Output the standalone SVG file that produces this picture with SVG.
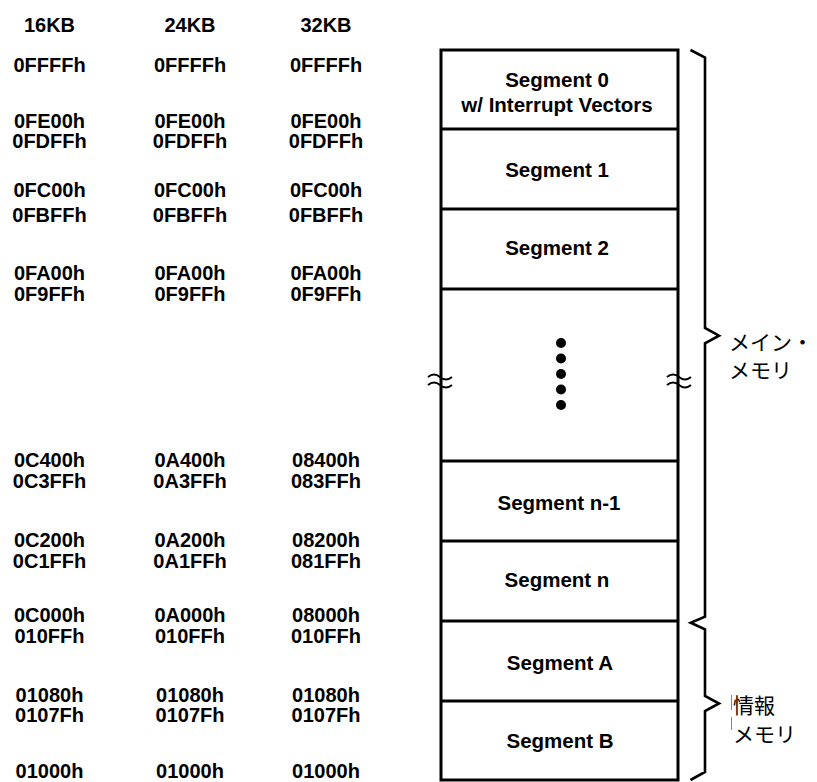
<svg xmlns="http://www.w3.org/2000/svg" width="817" height="782" viewBox="0 0 817 782">
<style>
.a{font-family:"Liberation Sans",Arial,sans-serif;font-weight:bold;font-size:20px;fill:#000;text-anchor:middle}
.s{font-family:"Liberation Sans",Arial,sans-serif;font-weight:bold;font-size:20.5px;fill:#000;text-anchor:middle}
.j{font-family:"Noto Sans CJK JP",sans-serif;font-size:21px;fill:#000}
.ln{stroke:#000;stroke-width:3;fill:none}
.br{stroke:#000;stroke-width:2.6;fill:none;stroke-linejoin:miter}
.wv{stroke:#000;stroke-width:2;fill:none}
</style>
<rect width="817" height="782" fill="#fff"/>
<g id="addresses">
<text class="a" x="49.5" y="32">16KB</text><text class="a" x="190" y="32">24KB</text><text class="a" x="326" y="32">32KB</text>
<text class="a" x="49.5" y="72">0FFFFh</text><text class="a" x="190" y="72">0FFFFh</text><text class="a" x="326" y="72">0FFFFh</text>
<text class="a" x="49.5" y="128">0FE00h</text><text class="a" x="190" y="128">0FE00h</text><text class="a" x="326" y="128">0FE00h</text>
<text class="a" x="49.5" y="148">0FDFFh</text><text class="a" x="190" y="148">0FDFFh</text><text class="a" x="326" y="148">0FDFFh</text>
<text class="a" x="49.5" y="197">0FC00h</text><text class="a" x="190" y="197">0FC00h</text><text class="a" x="326" y="197">0FC00h</text>
<text class="a" x="49.5" y="222">0FBFFh</text><text class="a" x="190" y="222">0FBFFh</text><text class="a" x="326" y="222">0FBFFh</text>
<text class="a" x="49.5" y="280">0FA00h</text><text class="a" x="190" y="280">0FA00h</text><text class="a" x="326" y="280">0FA00h</text>
<text class="a" x="49.5" y="301">0F9FFh</text><text class="a" x="190" y="301">0F9FFh</text><text class="a" x="326" y="301">0F9FFh</text>
<text class="a" x="49.5" y="467">0C400h</text><text class="a" x="190" y="467">0A400h</text><text class="a" x="326" y="467">08400h</text>
<text class="a" x="49.5" y="488">0C3FFh</text><text class="a" x="190" y="488">0A3FFh</text><text class="a" x="326" y="488">083FFh</text>
<text class="a" x="49.5" y="547">0C200h</text><text class="a" x="190" y="547">0A200h</text><text class="a" x="326" y="547">08200h</text>
<text class="a" x="49.5" y="568">0C1FFh</text><text class="a" x="190" y="568">0A1FFh</text><text class="a" x="326" y="568">081FFh</text>
<text class="a" x="49.5" y="622">0C000h</text><text class="a" x="190" y="622">0A000h</text><text class="a" x="326" y="622">08000h</text>
<text class="a" x="49.5" y="643">010FFh</text><text class="a" x="190" y="643">010FFh</text><text class="a" x="326" y="643">010FFh</text>
<text class="a" x="49.5" y="702">01080h</text><text class="a" x="190" y="702">01080h</text><text class="a" x="326" y="702">01080h</text>
<text class="a" x="49.5" y="722">0107Fh</text><text class="a" x="190" y="722">0107Fh</text><text class="a" x="326" y="722">0107Fh</text>
<text class="a" x="49.5" y="778">01000h</text><text class="a" x="190" y="778">01000h</text><text class="a" x="326" y="778">01000h</text>
</g>
<g id="memory-map">
<rect class="ln" x="441" y="50" width="237" height="730" fill="#fff"/>
<g id="seg0"><line class="ln" x1="441" y1="129" x2="678" y2="129"/><text class="s" x="557" y="87">Segment 0</text><text class="s" x="557" y="112">w/ Interrupt Vectors</text></g>
<g id="seg1"><line class="ln" x1="441" y1="209" x2="678" y2="209"/><text class="s" x="557" y="177">Segment 1</text></g>
<g id="seg2"><line class="ln" x1="441" y1="289" x2="678" y2="289"/><text class="s" x="557" y="255">Segment 2</text></g>
<g id="gap">
<circle cx="561" cy="343" r="5"/><circle cx="561" cy="358.5" r="5"/><circle cx="561" cy="374" r="5"/><circle cx="561" cy="389.5" r="5"/><circle cx="561" cy="405" r="5"/>
<path class="wv" d="M428,377 q6,-5 12,0 t12,0 M428,385 q6,-5 12,0 t12,0"/>
<path class="wv" d="M667,377 q6,-5 12,0 t12,0 M667,385 q6,-5 12,0 t12,0"/>
</g>
<g id="segn1"><line class="ln" x1="441" y1="461" x2="678" y2="461"/><text class="s" x="559" y="510">Segment n-1</text></g>
<g id="segn"><line class="ln" x1="441" y1="541" x2="678" y2="541"/><text class="s" x="557" y="587">Segment n</text></g>
<g id="segA"><line class="ln" x1="441" y1="621" x2="678" y2="621"/><text class="s" x="560" y="670">Segment A</text></g>
<g id="segB"><line class="ln" x1="441" y1="701" x2="678" y2="701"/><text class="s" x="560" y="748">Segment B</text></g>
</g>
<g id="braces">
<path class="br" d="M690.5,50 L705,57.5 L705,328 L719,335.7 L705,343.3 L705,616.7 L690.7,622.7 L705,629.3 L705,696 L719,703.5 L705,711 L705,772 L690.5,780"/>
</g>
<g id="labels">
<text class="j" x="729" y="350">メイン・</text>
<text class="j" x="729" y="378">メモリ</text>
<text class="j" x="733" y="713">情報</text>
<text class="j" x="733" y="742">メモリ</text>
<line x1="731.5" y1="695" x2="731.5" y2="710" stroke="#888" stroke-width="1"/>
<line x1="731.5" y1="717" x2="731.5" y2="730" stroke="#888" stroke-width="1"/>
</g>
</svg>
